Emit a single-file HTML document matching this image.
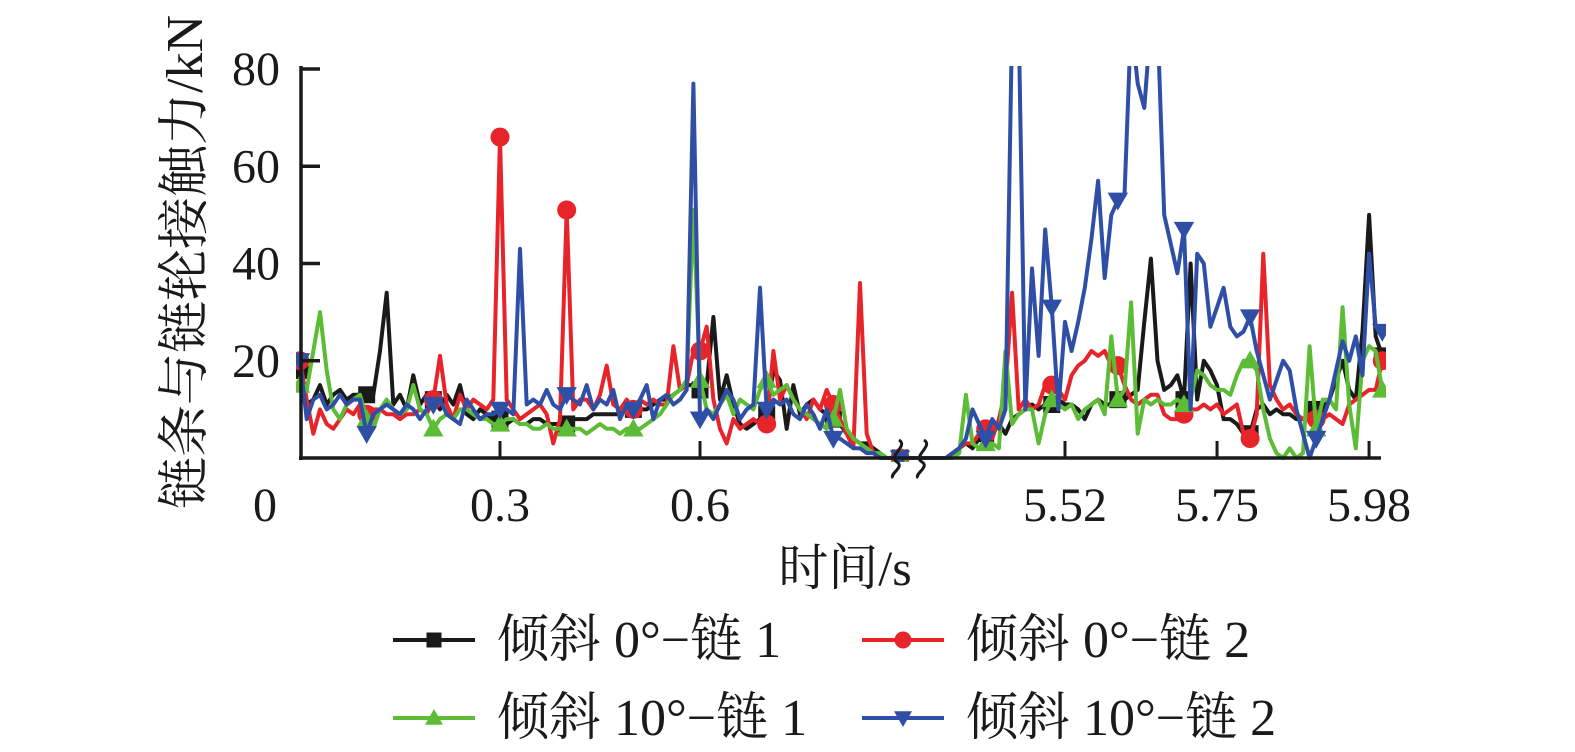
<!DOCTYPE html>
<html><head><meta charset="utf-8"><style>
html,body{margin:0;padding:0;background:#fff;}
svg text{font-family:"Liberation Serif","Noto Serif CJK SC","Noto Sans CJK SC",serif;fill:#1a1a1a;}
</style></head><body>
<svg id="chart" width="1575" height="747" viewBox="0 0 1575 747" xmlns="http://www.w3.org/2000/svg">
<defs><clipPath id="plotclip"><rect x="296" y="66" width="1090" height="396"/></clipPath></defs>
<g id="series" clip-path="url(#plotclip)"></g>
<g id="axes"></g>
<g id="legend"></g>
</svg>
<script>
// ---- data ----
const leftTimesStart = 0.00;   // left segment t = 0.00 .. 0.90 step 0.01
const rightTimesStart = 5.30;  // right segment t = 5.30 .. 6.00 step 0.01
const yTicks = [20, 40, 60, 80];
const yTickLabels = ["20", "40", "60", "80"];
const xTickValuesLeft = [0.3, 0.6];
const xTickValuesRight = [5.52, 5.75, 5.98];
const xTickLabelsLeft = ["0.3", "0.6"];
const xTickLabelsRight = ["5.52", "5.75", "5.98"];
const seriesNames = ["倾斜 0°−链 1", "倾斜 0°−链 2", "倾斜 10°−链 1", "倾斜 10°−链 2"];

const blackLeft = [18,11,12,15,11,13,14,12,13,13,13,13,22,34,11,13,10,17,11,13,
12,10,13,11,15,9,8,10,9,8,8,7,8,7,7,8,8,7,7,7,
7,8,8,8,9,9,9,9,9,10,10,10,10,11,12,12,13,14,15,15,
14,15,29,12,17,11,7,6,7,8,9,18,16,6,15,9,11,12,10,9,
8,7,5,4,3,3,2,1,0,0,0];
const blackRight = [0,0,0,0,0,1,2,3,2,4,5,6,7,5,8,9,10,11,10,11,
11,12,11,11,10,8,11,12,11,11,12,12,13,14,28,41,20,14,15,17,
12,40,12,20,18,15,8,8,7,5,5,10,11,9,10,9,9,8,8,9,
10,10,12,16,20,14,12,26,50,25,21];

const redLeft = [20,12,5,10,7,6,8,10,9,11,9,10,10,9,9,8,9,9,10,9,
12,21,11,8,13,10,12,11,10,12,66,12,10,8,9,10,11,9,3,8,
51,10,12,12,10,13,19,11,10,12,10,12,11,12,11,11,23,14,15,22,
22,27,12,6,3,8,6,7,8,7,7,22,12,15,12,10,8,12,10,14,
11,8,5,2,36,5,1,0,0,0,0];
const redRight = [0,0,0,0,0,1,2,3,3,5,6,4,8,14,34,10,12,10,11,15,
15,14,12,17,19,20,22,21,22,19,19,15,12,11,12,13,13,9,8,8,
9,10,10,11,10,11,9,10,11,5,4,9,42,15,12,10,11,9,8,9,
8,8,9,8,7,11,12,13,14,14,20];

const greenLeft = [15,14,22,30,18,10,8,11,12,13,8,6,10,12,10,9,10,15,10,9,
6,8,9,8,10,10,9,8,8,7,7,8,8,7,7,6,6,7,6,6,
6,6,6,5,6,7,6,6,5,6,6,6,7,8,9,11,13,14,16,51,
16,10,9,11,13,9,12,11,10,14,16,13,14,15,12,10,9,8,7,6,
8,14,6,4,3,2,1,1,0,0,0];
const greenRight = [0,0,0,0,0,0,1,13,3,2,3,3,2,22,7,9,10,10,3,9,
12,11,10,11,8,10,11,12,9,25,12,14,32,5,12,11,12,11,11,12,
11,12,18,17,15,14,14,13,17,20,20,18,10,4,1,0,2,0,1,23,
6,12,12,10,31,11,2,20,23,22,14];

const blueLeft = [20,8,12,13,10,11,13,11,12,12,5,9,10,11,10,9,11,10,8,10,
11,12,9,8,7,12,10,8,9,9,10,10,9,43,11,12,11,14,11,10,
13,12,11,15,10,12,11,14,8,11,10,12,15,8,12,13,11,12,14,77,
8,10,8,11,14,12,8,10,11,35,10,12,11,12,9,8,11,9,6,10,
4,4,3,2,2,1,1,0,0,0,0];
const blueRight = [0,0,0,0,0,1,2,4,10,7,4,8,6,10,90,90,10,39,21,47,
31,10,28,22,28,35,45,57,37,50,53,54,90,77,72,90,90,50,44,38,
47,10,42,40,27,31,35,27,25,26,29,22,17,12,16,20,18,10,5,0,
4,8,12,18,24,20,25,17,42,27,26];

// ---- geometry ----
const NS = "http://www.w3.org/2000/svg";
const X0 = 300, LPX = 666.7;
const R552 = 1065, RPX = 661;
const Y0 = 458, YPX = 4.8625;
function xLeft(t){ return X0 + t * LPX; }
function xRight(t){ return R552 + (t - 5.52) * RPX; }
function yS(v){ return Y0 - v * YPX; }

const colors = ["#1a1a1a", "#e8242b", "#5cbc36", "#2f4ea6"];
const markerTypes = ["square", "circle", "tri-up", "tri-down"];
const lefts = [blackLeft, redLeft, greenLeft, blueLeft];
const rights = [blackRight, redRight, greenRight, blueRight];
const seriesKeys = ["tilt0-chain1", "tilt0-chain2", "tilt10-chain1", "tilt10-chain2"];

function mk(tag, attrs, parent){
  const e = document.createElementNS(NS, tag);
  for (const k in attrs) e.setAttribute(k, attrs[k]);
  parent.appendChild(e);
  return e;
}
function marker(type, cx, cy, color, parent, s){
  let e;
  if (type === "square") e = mk("rect", {x:cx-s/2, y:cy-s/2, width:s, height:s, fill:color}, parent);
  else if (type === "circle") e = mk("circle", {cx:cx, cy:cy, r:s/2+1, fill:color}, parent);
  else if (type === "tri-up") e = mk("polygon", {points:`${cx},${cy-s*0.6} ${cx-s*0.6},${cy+s*0.45} ${cx+s*0.6},${cy+s*0.45}`, fill:color}, parent);
  else e = mk("polygon", {points:`${cx},${cy+s*0.6} ${cx-s*0.6},${cy-s*0.45} ${cx+s*0.6},${cy-s*0.45}`, fill:color}, parent);
  return e;
}

const gS = document.getElementById("series");
for (let s = 0; s < 4; s++) {
  const g = mk("g", {}, gS);
  
  
  const L = lefts[s].map((v, i) => [xLeft(leftTimesStart + i * 0.01), yS(v)]);
  const R = rights[s].map((v, i) => [xRight(rightTimesStart + i * 0.01), yS(v)]);
  const pts = L.concat(R);
  const line = mk("polyline", {points: pts.map(p => p[0].toFixed(1) + "," + p[1].toFixed(1)).join(" "),
    fill:"none", stroke:colors[s], "stroke-width":4, "stroke-linejoin":"round"}, g);
  
  
  lefts[s].forEach((v, i) => {
    if (i % 10 === 0) {
      const m = marker(markerTypes[s], xLeft(leftTimesStart + i * 0.01), yS(v), colors[s], g, 17);
      
      
    }
  });
  rights[s].forEach((v, i) => {
    if (i % 10 === 0 && i > 0) {
      const m = marker(markerTypes[s], xRight(rightTimesStart + i * 0.01), yS(v), colors[s], g, 17);
      
      
    }
  });
}

// ---- axes ----
const gA = document.getElementById("axes");
const yAxis = mk("line", {x1:301, y1:66, x2:301, y2:460, stroke:"#1a1a1a", "stroke-width":3.5}, gA);


const xAxis = mk("line", {x1:299, y1:458, x2:1381, y2:458, stroke:"#1a1a1a", "stroke-width":3.5}, gA);


yTicks.forEach((v, i) => {
  const t = mk("line", {x1:301, y1:yS(v), x2:320, y2:yS(v), stroke:"#1a1a1a", "stroke-width":3.5}, gA);
  
  
  const lb = mk("text", {x:280, y:yS(v) + 16, "font-size":48, "text-anchor":"end"}, gA);
  lb.textContent = yTickLabels[i];
  
  
});
const zero = mk("text", {x:265, y:521, "font-size":48, "text-anchor":"middle"}, gA);
zero.textContent = "0";


xTickValuesLeft.forEach((v, i) => {
  const t = mk("line", {x1:xLeft(v), y1:458, x2:xLeft(v), y2:441, stroke:"#1a1a1a", "stroke-width":3}, gA);
  
  
  const lb = mk("text", {x:xLeft(v), y:521, "font-size":48, "text-anchor":"middle"}, gA);
  lb.textContent = xTickLabelsLeft[i];
  
  
});
xTickValuesRight.forEach((v, i) => {
  const t = mk("line", {x1:xRight(v), y1:458, x2:xRight(v), y2:441, stroke:"#1a1a1a", "stroke-width":3}, gA);
  
  
  const lb = mk("text", {x:xRight(v), y:521, "font-size":48, "text-anchor":"middle"}, gA);
  lb.textContent = xTickLabelsRight[i];
  
  
});
// axis break
[895, 920].forEach(bx => {
  const b = mk("path", {d:`M${bx+4},${440} C${bx+14},${446} ${bx-8},${456} ${bx+2},${462} C${bx+10},${467} ${bx-6},${474} ${bx-2},${478}`,
    fill:"none", stroke:"#1a1a1a", "stroke-width":3}, gA);
  
  
});
const yt = mk("text", {x:0, y:0, "font-size":52, "text-anchor":"middle", transform:"translate(202,262) rotate(-90)"}, gA);
yt.textContent = "链条与链轮接触力/kN";


const xt = mk("text", {x:845, y:585, "font-size":50, "text-anchor":"middle"}, gA);
xt.textContent = "时间/s";



// ---- legend ----
const gL = document.getElementById("legend");
const legPos = [[393, 640], [862, 640], [393, 718], [862, 718]];
for (let s = 0; s < 4; s++) {
  const g = mk("g", {}, gL);
  
  
  const [lx, ly] = legPos[s];
  mk("line", {x1:lx, y1:ly, x2:lx + 82, y2:ly, stroke:colors[s], "stroke-width":4}, g);
  marker(markerTypes[s], lx + 41, ly, colors[s], g, 15);
  const t = mk("text", {x:lx + 104, y:ly + 17, "font-size":52}, g);
  t.textContent = seriesNames[s];
}
</script>
</body></html>
